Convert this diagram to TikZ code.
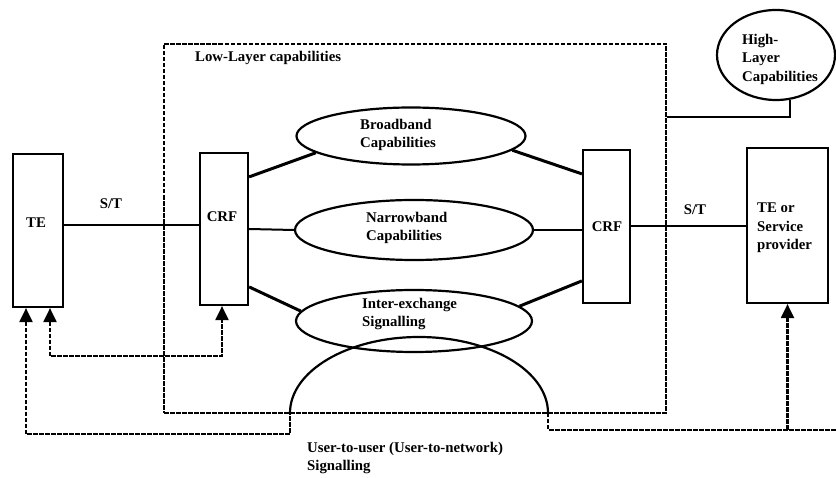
\documentclass[tikz,border=0pt]{standalone}
\usepackage{fontspec}
\setmainfont{Liberation Serif}
\usetikzlibrary{arrows.meta,shapes.geometric}
\begin{document}
\begin{tikzpicture}[x=1pt,y=-1pt,
  font=\fontsize{14.8}{18.5}\selectfont\bfseries,
  box/.style={draw,line width=2.2pt,inner sep=0pt},
  oval/.style={draw,ellipse,line width=2.2pt,inner sep=0pt},
  txt/.style={anchor=west,align=left,inner sep=0pt},
  link/.style={line width=3pt},
  plain/.style={line width=2pt},
  sig/.style={line width=2.1pt,dash pattern=on 4.5pt off 1.5pt},
  tipA/.style={-{Triangle[length=14pt,width=13pt]}},
  tipB/.style={{Triangle[length=14pt,width=13pt]}-{Triangle[length=14pt,width=13pt]}},
  tipS/.style={{Triangle[length=14pt,width=13pt]}-}]
\useasboundingbox (0,0) rectangle (836,478);

% terminals and connection related functions
\node[box,minimum width=50pt,minimum height=153pt] (te) at (38,230.5) {};
\node[box,minimum width=48pt,minimum height=152pt] (crfL) at (224,229) {};
\node[box,minimum width=47pt,minimum height=153pt] (crfR) at (606.5,226.5) {};
\node[box,minimum width=81pt,minimum height=155pt] (ter) at (787.5,225.5) {};

% low-layer capabilities area
\node[draw,sig,inner sep=0pt,minimum width=502pt,minimum height=369pt] (llc) at (415,228.5) {};

% capability ellipses
\node[oval,minimum width=229pt,minimum height=57pt] (bb) at (411,136) {};
\node[oval,minimum width=238pt,minimum height=60pt] (nb) at (414,230) {};
\node[oval,minimum width=236pt,minimum height=62pt] (ie) at (414,321) {};
\node[oval,minimum width=118pt,minimum height=90pt] (hl) at (776,55) {};

% labels
\node[txt] (llcT) at (195,58) {Low-Layer capabilities};
\node[txt] (hlT) at (742,59) {High-\\Layer\\Capabilities};
\node[txt] (bbT) at (360,135) {Broadband\\Capabilities};
\node[txt] (nbT) at (366,228) {Narrowband\\Capabilities};
\node[txt] (ieT) at (362,314) {Inter-exchange\\Signalling};
\node[txt] (terT) at (757,228) {TE or\\Service\\provider};
\node[txt] (sigT) at (307,458) {User-to-user (User-to-network)\\Signalling};
\node (teT) at (36,223) {TE};
\node (crfLT) at (222,217) {CRF};
\node (crfRT) at (607,227) {CRF};
\node (stL) at (111,204) {S/T};
\node (stR) at (695,210) {S/T};

% S/T reference points
\draw[plain] ([yshift=5pt]te.east) -- ([yshift=5pt]te.east -| crfL.west);
\draw[plain] (crfR.east) -- (crfR.east -| ter.west);

% CRF to capabilities
\draw[link] ([yshift=-25pt]crfL.north east) -- (bb.190);
\draw[link] (bb.352) -- ([yshift=-25pt]crfR.north west);
\draw[plain] (crfL.east) -- (nb.west);
\draw[plain] (nb.east) -- (nb.east -| crfR.west);
\draw[link] ([yshift=-135pt]crfL.north east) -- (ie.175);
\draw[link] (ie.8) -- ([yshift=-132pt]crfR.north west);

% high-layer capabilities attachment
\draw[plain] (hl.-73) |- ([yshift=-74pt]llc.north east);

% signalling paths
\coordinate (arcL) at (290,413);
\coordinate (arcR) at (548,413);
\coordinate (edgeR) at (836,430);
\draw[sig,tipB] ([xshift=12pt]te.south) -- ++(0,48) -| ([xshift=-2pt]crfL.south);
\draw[sig,tipS] ([xshift=-12pt]te.south) -- ++(0,126) -| (arcL);
\draw[line width=2.2pt] (arcL) arc[start angle=180,end angle=0,x radius=129pt,y radius=76pt];
\draw[sig] (arcR) -- ++(0,17) -- (edgeR);
\draw[sig,tipA] (ter.south |- edgeR) -- (ter.south);
\end{tikzpicture}
\end{document}
